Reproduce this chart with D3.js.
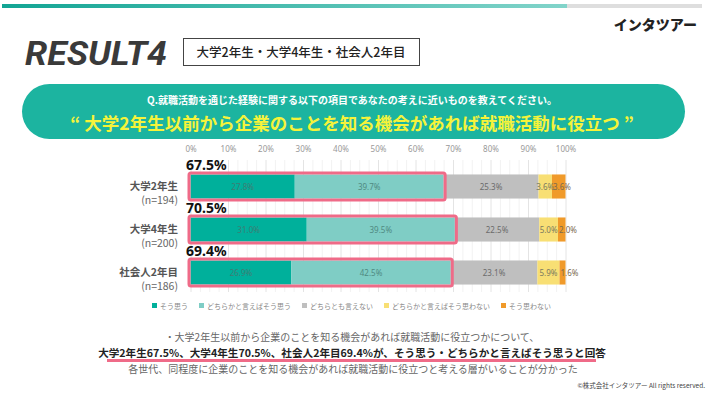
<!DOCTYPE html>
<html>
<head>
<meta charset="utf-8">
<script src="https://cdn.jsdelivr.net/npm/d3@7"></script>
<style>
  html, body { margin: 0; padding: 0; background: #fff; }
  svg { display: block; font-family: "Noto Sans CJK JP", "Noto Sans", sans-serif; }
</style>
</head>
<body>
<div id="chart"></div>
<script>
// chart values
const categories = ['大学2年生', '大学4年生', '社会人2年目']
const sampleSizes = ['(n=194)', '(n=200)', '(n=186)']
const seriesNames = ['そう思う', 'どちらかと言えばそう思う', 'どちらとも言えない', 'どちらかと言えばそう思わない', 'そう思わない']
const agree = [27.8, 31.0, 26.9]
const somewhatAgree = [39.7, 39.5, 42.5]
const neutral = [25.3, 22.5, 23.1]
const somewhatDisagree = [3.6, 5.0, 5.9]
const disagree = [3.6, 2.0, 1.6]
const tickValues = [0, 10, 20, 30, 40, 50, 60, 70, 80, 90, 100]

const colors = ['#00b09b', '#7fcdc5', '#bfbfbf', '#f8df74', '#f09a2a']
const labelColors = ['#3f7d74', '#4f8a82', '#6b6b6b', '#7a7a60', '#7a6a50']

const W = 709, H = 399
const svg = d3.select('#chart').append('svg').attr('width', W).attr('height', H)

// top progress bar
const defs = svg.append('defs')
const grad = defs.append('linearGradient').attr('id', 'topgrad')
grad.append('stop').attr('offset', '0%').attr('stop-color', '#12a594')
grad.append('stop').attr('offset', '100%').attr('stop-color', '#82d4ca')
svg.append('rect').attr('x', 2).attr('y', 4).attr('width', 700).attr('height', 4).attr('fill', '#dedede')
svg.append('rect').attr('x', 2).attr('y', 4).attr('width', 565).attr('height', 4).attr('fill', 'url(#topgrad)')

// brand
svg.append('text').attr('x', 697).attr('y', 30).attr('text-anchor', 'end')
    .attr('font-size', 14).attr('font-weight', 900).attr('fill', '#222')
    .text('インタツアー')

// title
svg.append('text').attr('x', 25).attr('y', 65)
    .attr('font-family', '"Liberation Sans Narrow", "Roboto", sans-serif')
    .attr('font-size', 34).attr('font-weight', 700).attr('font-style', 'italic')
    .attr('fill', '#3a3a3a').attr('textLength', 142).attr('lengthAdjust', 'spacingAndGlyphs')
    .text('RESULT4')
svg.append('rect').attr('x', 183.5).attr('y', 38.5).attr('width', 236).attr('height', 27)
    .attr('fill', '#fff').attr('stroke', '#444').attr('stroke-width', 1)
svg.append('text').attr('x', 301).attr('y', 56.5).attr('text-anchor', 'middle')
    .attr('font-size', 12.5).attr('font-weight', 500).attr('fill', '#222')
    .text('大学2年生・大学4年生・社会人2年目')

// question pill
svg.append('rect').attr('x', 22).attr('y', 84).attr('width', 663).attr('height', 55)
    .attr('rx', 27.5).attr('fill', '#1cb4a0')
svg.append('text').attr('x', 352).attr('y', 104).attr('text-anchor', 'middle')
    .attr('font-size', 10).attr('font-weight', 700).attr('fill', '#fff')
    .text('Q.就職活動を通じた経験に関する以下の項目であなたの考えに近いものを教えてください。')
svg.append('text').attr('x', 352).attr('y', 130).attr('text-anchor', 'middle')
    .attr('font-size', 17.5).attr('font-weight', 700).attr('fill', '#f6f33a')
    .text('“ 大学2年生以前から企業のことを知る機会があれば就職活動に役立つ ”')

// chart
const rows = categories.map((c, i) => ({
  category: c,
  n: sampleSizes[i],
  [seriesNames[0]]: agree[i],
  [seriesNames[1]]: somewhatAgree[i],
  [seriesNames[2]]: neutral[i],
  [seriesNames[3]]: somewhatDisagree[i],
  [seriesNames[4]]: disagree[i],
}))

const x = d3.scaleLinear().domain([0, 100]).range([190.5, 565.5])
const y = d3.scaleBand().domain(categories).range([165, 294]).paddingInner(0.44).paddingOuter(0.22)

const stack = d3.stack().keys(seriesNames)
const series = stack(rows)

// grid
svg.append('g').selectAll('line').data(d3.range(0, 101, 2.5)).join('line')
    .attr('x1', (d) => x(d) + 0.5).attr('x2', (d) => x(d) + 0.5)
    .attr('y1', 160).attr('y2', 292)
    .attr('stroke', (d) => d % 10 === 0 ? '#e4e4e4' : '#f2f2f2').attr('stroke-width', 1)

// top axis labels
const axis = d3.axisTop(x).tickValues(tickValues).tickFormat((d) => d + '%').tickSize(0)
const axisG = svg.append('g').attr('transform', 'translate(0,155)').call(axis)
axisG.select('.domain').remove()
axisG.selectAll('text').attr('font-size', 8).attr('fill', '#999')
    .attr('font-family', '"Noto Sans", sans-serif')

// bars
const layers = svg.append('g').selectAll('g').data(series).join('g')
    .attr('fill', (d, i) => colors[i])
layers.selectAll('rect').data((d) => d).join('rect')
    .attr('x', (d) => x(d[0]))
    .attr('y', (d) => y(d.data.category))
    .attr('width', (d) => x(d[1]) - x(d[0]))
    .attr('height', y.bandwidth())

// segment labels (the last one starts at its segment, like the original)
const labels = svg.append('g').selectAll('g').data(series).join('g')
labels.each(function(s, i) {
  const last = i === seriesNames.length - 1
  d3.select(this).selectAll('text').data(s).join('text')
      .attr('x', (d) => last ? x(d[0]) + 1 : (x(d[0]) + x(d[1])) / 2)
      .attr('y', (d) => y(d.data.category) + y.bandwidth() / 2 + 3)
      .attr('text-anchor', last ? 'start' : 'middle')
      .attr('font-size', 8)
      .attr('font-family', '"Noto Sans", sans-serif')
      .attr('fill', labelColors[i])
      .text((d) => (d[1] - d[0]).toFixed(1) + '%')
})

// highlight boxes (agree + somewhat agree)
const tops = series[1]
svg.append('g').selectAll('rect').data(tops).join('rect')
    .attr('x', x(0) - 1.5)
    .attr('y', (d) => y(d.data.category) - 1.5)
    .attr('width', (d) => x(d[1]) - x(0) + 3)
    .attr('height', y.bandwidth() + 3)
    .attr('rx', 2)
    .attr('fill', 'none').attr('stroke', '#ef6b88').attr('stroke-width', 3)

svg.append('g').selectAll('text').data(tops).join('text')
    .attr('x', 186)
    .attr('y', (d) => y(d.data.category) - 4)
    .attr('font-size', 14).attr('font-weight', 700).attr('fill', '#111')
    .attr('font-family', '"Noto Sans", sans-serif')
    .text((d) => d[1].toFixed(1) + '%')

// row labels
const rowLab = svg.append('g').selectAll('g').data(rows).join('g')
    .attr('transform', (d) => `translate(178,${y(d.category) + y.bandwidth() / 2})`)
rowLab.append('text').attr('y', 3).attr('text-anchor', 'end')
    .attr('font-size', 10.5).attr('font-weight', 700).attr('fill', '#555')
    .text((d) => d.category)
rowLab.append('text').attr('y', 17).attr('text-anchor', 'end')
    .attr('font-size', 10.5).attr('fill', '#666')
    .text((d) => d.n)

// legend
const legend = svg.append('g').attr('transform', 'translate(152,306)')
let lx = 0
seriesNames.forEach((name, i) => {
  const g = legend.append('g').attr('transform', `translate(${lx},0)`)
  g.append('rect').attr('x', 0).attr('y', -3).attr('width', 5).attr('height', 5).attr('fill', colors[i])
  const t = g.append('text').attr('x', 8).attr('y', 2.5)
      .attr('font-size', 7).attr('fill', '#888').text(name)
  lx += 8 + t.node().getComputedTextLength() + 11
})

// bottom commentary
svg.append('text').attr('x', 352).attr('y', 341).attr('text-anchor', 'middle')
    .attr('font-size', 10).attr('fill', '#666')
    .text('・大学2年生以前から企業のことを知る機会があれば就職活動に役立つかについて、')
const summary = categories.map((c, i) => c + (agree[i] + somewhatAgree[i]).toFixed(1) + '%').join('、')
svg.append('rect').attr('x', 107).attr('y', 359).attr('width', 489).attr('height', 3).attr('fill', '#ef6b88')
svg.append('text').attr('x', 352).attr('y', 357).attr('text-anchor', 'middle')
    .attr('font-size', 10.6).attr('font-weight', 700).attr('fill', '#222')
    .text(summary + 'が、そう思う・どちらかと言えばそう思うと回答')
svg.append('text').attr('x', 353).attr('y', 373).attr('text-anchor', 'middle')
    .attr('font-size', 10).attr('fill', '#666')
    .text('各世代、同程度に企業のことを知る機会があれば就職活動に役立つと考える層がいることが分かった')

svg.append('text').attr('x', 705).attr('y', 388).attr('text-anchor', 'end')
    .attr('font-size', 6.5).attr('fill', '#444')
    .text('©株式会社インタツアー All rights reserved.')
</script>
</body>
</html>
